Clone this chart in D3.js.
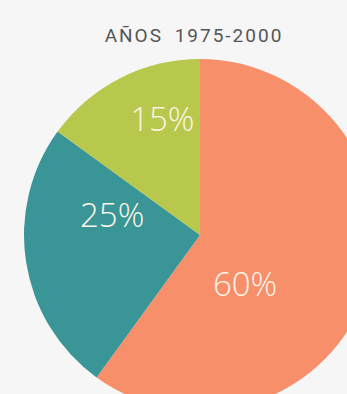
<!DOCTYPE html>
<html>
<head>
<meta charset="utf-8">
<script src="https://cdn.jsdelivr.net/npm/d3@7"></script>
<style>
  html, body { margin: 0; padding: 0; background: #f6f6f6; overflow: hidden; }
  svg { display: block; }
</style>
</head>
<body>
<svg id="chart" width="347" height="394"></svg>
<script>
// Share of the period, in percent
const categories = ["A", "B", "C"];
const values = [60, 25, 15];
const labels = ["60%", "25%", "15%"];
const colors = ["#f78f6b", "#3a9597", "#b8c84c"];
const title = "AÑOS\u20021975-2000";

const width = 347, height = 394;
const cx = 200, cy = 235, radius = 176;

const svg = d3.select("#chart");
svg.append("rect").attr("width", width).attr("height", height).attr("fill", "#f6f6f6");

const pie = d3.pie().sort(null).value(d => d.value);
const arc = d3.arc().innerRadius(0).outerRadius(radius);

const data = categories.map((c, i) => ({ key: c, value: values[i], label: labels[i], color: colors[i] }));
const arcs = pie(data);

const g = svg.append("g").attr("transform", `translate(${cx},${cy})`);

g.selectAll("path.slice")
  .data(arcs)
  .join("path")
  .attr("class", "slice")
  .attr("d", arc)
  .attr("fill", d => d.data.color);

// Label placement inside each slice: angle (deg, clockwise from top) and distance from centre
const labelPlacement = { A: [137.7, 67], B: [282.5, 90], C: [342, 122] };

g.selectAll("text.pct")
  .data(arcs)
  .join("text")
  .attr("class", "pct")
  .attr("x", d => Math.sin(labelPlacement[d.data.key][0] * Math.PI / 180) * labelPlacement[d.data.key][1])
  .attr("y", d => -Math.cos(labelPlacement[d.data.key][0] * Math.PI / 180) * labelPlacement[d.data.key][1])
  .attr("dy", "0.36em")
  .attr("text-anchor", "middle")
  .attr("font-family", "'Open Sans', sans-serif")
  .attr("font-weight", 300)
  .attr("font-size", 33)
  .attr("fill", "#fbf5e6")
  .text(d => d.data.label);

svg.append("text")
  .attr("x", 194)
  .attr("y", 42)
  .attr("text-anchor", "middle")
  .attr("font-family", "Roboto, sans-serif")
  .attr("font-weight", 400)
  .attr("font-size", 19)
  .attr("letter-spacing", 2)
  .attr("fill", "#555555")
  .text(title);
</script>
</body>
</html>
